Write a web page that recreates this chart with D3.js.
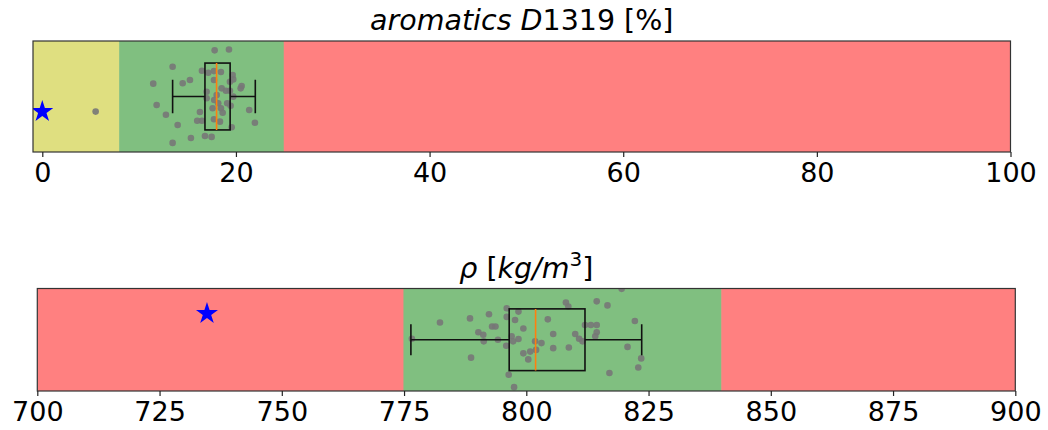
<!DOCTYPE html>
<html><head><meta charset="utf-8">
<script src="https://cdn.jsdelivr.net/npm/d3@7"></script>
<style>body{margin:0;background:#fff}svg{display:block}text{font-family:"DejaVu Sans",sans-serif}</style>
</head><body><svg id="c" width="1048" height="430"></svg>
<script>
// ---- data: aromatics panel ----
const aroTicks = [0, 20, 40, 60, 80, 100];
const aroZoneEdges = [-1, 8, 25, 100];
const aroZoneKinds = ["warn", "ok", "bad"];
const aroBox = [13.46, 16.8, 18.0, 19.4, 22.0]; // lo whisker, q1, median, q3, hi whisker
const aroRef = [0, -0.113];
const aroValues = [17.80,19.28,13.46,16.49,17.14,17.73,18.45,19.66,19.72,11.46,14.50,15.25,17.73,19.38,18.52,18.97,20.49,20.59,16.97,18.01,19.38,19.72,16.97,17.76,11.81,18.17,19.10,17.59,18.45,19.45,21.37,12.77,16.28,18.63,17.73,18.35,16.00,16.49,13.98,19.56,21.96,16.80,17.49,15.35,13.46,5.51];
const aroJitter = [0.345,0.352,0.222,0.193,0.178,0.190,0.183,0.160,0.128,0.096,0.099,0.123,0.123,0.110,0.061,0.043,0.061,0.078,0.036,0.011,0.043,-0.001,-0.013,-0.026,-0.063,-0.051,-0.051,-0.088,-0.088,-0.069,-0.101,-0.136,-0.116,-0.121,-0.170,-0.188,-0.181,-0.181,-0.213,-0.230,-0.196,-0.295,-0.302,-0.310,-0.347,-0.113];

// ---- data: density panel ----
const rhoTicks = [700, 725, 750, 775, 800, 825, 850, 875, 900];
const rhoZoneEdges = [700, 775, 840, 900];
const rhoZoneKinds = ["bad", "ok", "bad"];
const rhoBox = [776.4, 796.5, 801.9, 812.0, 823.6];
const rhoRef = [734.7, 0.212];
const rhoValues = [782.35,788.49,792.37,796.0,798.4,796.0,797.7,804.4,793.0,793.7,799.4,790.2,791.2,776.6,794.2,797.0,797.3,798.4,791.3,795.9,801.8,803.1,802.0,800.8,799.4,788.7,800.4,796.4,797.5,
  819.5,808.1,808.6,814.4,816.6,822.2,812.0,813.2,814.4,814.4,814.1,805.5,810.0,810.8,811.5,805.5,808.7,820.7,823.5,822.9,817.0];
const rhoJitter = [0.140,0.173,0.206,0.255,0.228,0.185,0.160,0.165,0.107,0.107,0.091,0.061,0.041,0.008,0.000,0.028,-0.013,0.006,-0.013,-0.049,-0.013,-0.027,-0.082,-0.096,-0.110,-0.145,-0.159,-0.283,-0.384,
  0.412,0.302,0.269,0.311,0.278,0.152,0.119,0.119,0.119,0.061,0.028,0.047,0.047,0.008,-0.013,-0.068,-0.063,-0.058,-0.151,-0.225,-0.269];

const zoneColor = {warn: "#dfdf80", ok: "#80bf80", bad: "#ff8080"};
const svg = d3.select("#c");

function panel(o) {
  const x = d3.scaleLinear().domain(o.domain).range([o.x0, o.x1]);
  const y = d3.scaleLinear().domain([-0.415, 0.415]).range([o.y1, o.y0]);
  const g = svg.append("g");
  const cid = "clip" + o.id;
  g.append("clipPath").attr("id", cid).append("rect")
    .attr("x", o.x0).attr("y", o.y0).attr("width", o.x1 - o.x0).attr("height", o.y1 - o.y0);
  const pg = g.append("g").attr("clip-path", `url(#${cid})`);
  // zones
  pg.selectAll("rect.z").data(o.kinds).join("rect").attr("class", "z")
    .attr("x", (d, i) => x(o.edges[i]) - (i ? 0.6 : 0)).attr("width", (d, i) => x(o.edges[i + 1]) - x(o.edges[i]) + (i ? 0.6 : 0))
    .attr("y", o.y0).attr("height", o.y1 - o.y0).attr("fill", d => zoneColor[d]);
  // points
  pg.selectAll("circle").data(o.values).join("circle")
    .attr("cx", d => x(d)).attr("cy", (d, i) => y(o.jitter[i])).attr("r", 3.3)
    .attr("fill", "#777").attr("fill-opacity", 0.9);
  // box
  const b = o.box, bw = 0.25, cw = 0.125;
  const ln = (x1, y1, x2, y2, c) => pg.append("line").attr("x1", x1).attr("y1", y1).attr("x2", x2).attr("y2", y2)
    .attr("stroke", c || "#111").attr("stroke-width", 1.6);
  ln(x(b[0]), y(0), x(b[1]), y(0));
  ln(x(b[3]), y(0), x(b[4]), y(0));
  ln(x(b[0]), y(cw), x(b[0]), y(-cw));
  ln(x(b[4]), y(cw), x(b[4]), y(-cw));
  pg.append("rect").attr("x", x(b[1])).attr("y", y(bw)).attr("width", x(b[3]) - x(b[1])).attr("height", y(-bw) - y(bw))
    .attr("fill", "none").attr("stroke", "#111").attr("stroke-width", 1.6);
  ln(x(b[2]), y(bw), x(b[2]), y(-bw), "#ff7f0e");
  // star
  pg.append("path").attr("d", d3.symbol(d3.symbolStar, 150)())
    .attr("transform", `translate(${x(o.ref[0])},${y(o.ref[1])})`).attr("fill", "#0000ff");
  // frame
  g.append("rect").attr("x", o.x0).attr("y", o.y0).attr("width", o.x1 - o.x0).attr("height", o.y1 - o.y0)
    .attr("fill", "none").attr("stroke", "#333").attr("stroke-width", 1.2);
  // axis
  const ax = g.append("g").attr("transform", `translate(0,${o.y1})`)
    .call(d3.axisBottom(x).tickValues(o.ticks).tickSize(5).tickPadding(6).tickFormat(d3.format("d")));
  ax.select(".domain").remove();
  ax.selectAll("line").attr("stroke", "#222").attr("stroke-width", 1.2);
  ax.selectAll("text").attr("font-size", 27).attr("fill", "#000").attr("font-family", "DejaVu Sans");
  // title
  const t = g.append("text").attr("x", (o.x0 + o.x1) / 2).attr("y", o.y0 - 11)
    .attr("text-anchor", "middle").attr("font-size", 28.5).attr("fill", "#000");
  o.title.forEach(p => {
    const s = t.append("tspan").text(p.t);
    if (p.i) s.attr("font-style", "italic");
    if (p.sup) s.attr("baseline-shift", "super").attr("font-size", 20);
  });
}

panel({id: "a", domain: [-0.96, 100], x0: 33, x1: 1010.5, y0: 41, y1: 152,
  edges: aroZoneEdges, kinds: aroZoneKinds, values: aroValues, jitter: aroJitter,
  box: aroBox, ref: aroRef, ticks: aroTicks,
  title: [{t: "aromatics D", i: true}, {t: "1319 [%]"}]});
panel({id: "b", domain: [700, 900], x0: 37.3, x1: 1015.3, y0: 288.5, y1: 391,
  edges: rhoZoneEdges, kinds: rhoZoneKinds, values: rhoValues, jitter: rhoJitter,
  box: rhoBox, ref: rhoRef, ticks: rhoTicks,
  title: [{t: "ρ", i: true}, {t: " ["}, {t: "kg/m", i: true}, {t: "3", sup: true}, {t: "]"}]});
</script></body></html>
